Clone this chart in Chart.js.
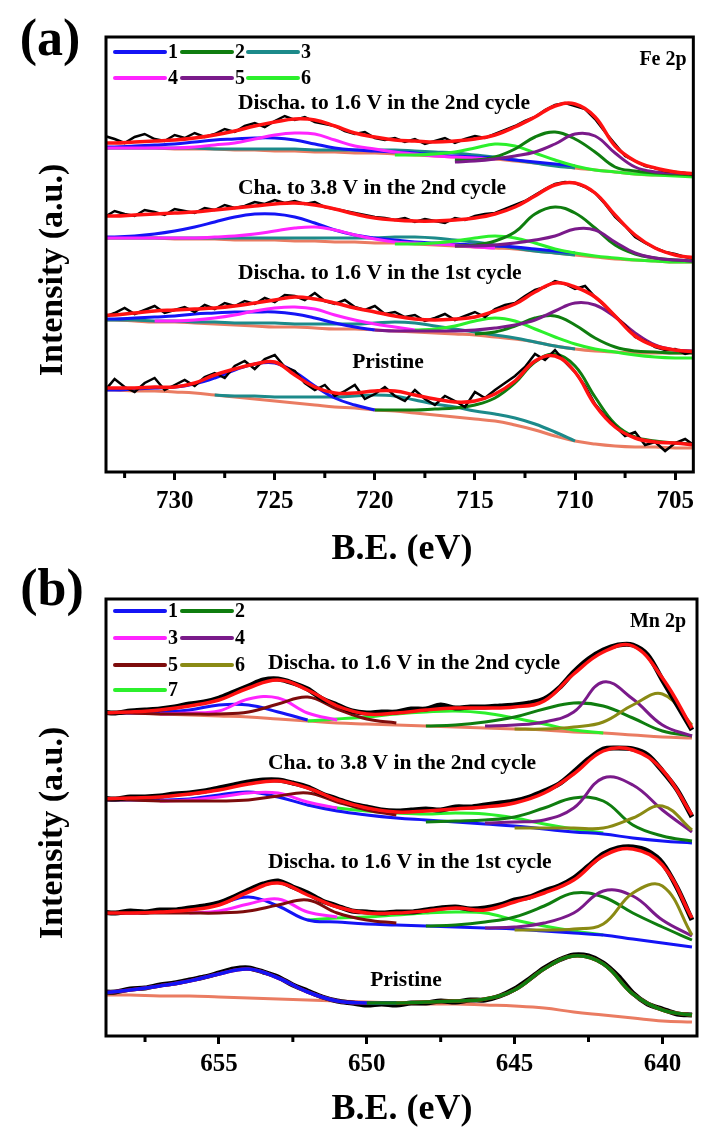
<!DOCTYPE html>
<html>
<head>
<meta charset="utf-8">
<script src="https://cdn.jsdelivr.net/npm/chart.js@4.4.0/dist/chart.umd.min.js"></script>
<style>
  body { margin: 0; background: #fff; width: 701px; height: 1133px; position: relative; overflow: hidden; }
  canvas { position: absolute; left: 0; }
  #ca { top: 0; }
  #cb { top: 540px; }
</style>
</head>
<body>
<canvas id="ca" width="701" height="580"></canvas>
<canvas id="cb" width="701" height="593"></canvas>
<script>
const _ = null;

// ---- panel (a) Fe 2p : binding energies (eV) ----
const eA = [734,733,732,731,730,729,728,727,726,725,724,723,722,721,720,719,718,717,716,715,714,713,712,711,710,709,708,707,706,705,704];
const eAraw = [734,733.5,733,732.5,732,731.5,731,730.5,730,729.5,729,728.5,728,727.5,727,726.5,726,725.5,725,724.5,724,723.5,723,722.5,722,721.5,721,720.5,720,719.5,719,718.5,718,717.5,717,716.5,716,715.5,715,714.5,714,713.5,713,712.5,712,711.5,711,710.5,710,709.5,709,708.5,708,707.5,707,706.5,706,705.5,705,704.5,704];
const ticksA = [730,725,720,715,710,705];
const namesA = ['1','2','3','4','5','6'];
const labelsA = ['Discha. to 1.6 V in the 2nd cycle','Cha. to 3.8 V in the 2nd cycle','Discha. to 1.6 V in the 1st cycle','Pristine'];

// discharged to 1.6 V, 2nd cycle
const a1Raw = [360,364,361,357,363,366,361,359,365,362,367,363,366,371,368,374,377,373,379,384,380,383,378,376,374,369,366,368,362,360,362,358,361,356,359,362,357,361,364,362,366,370,374,379,383,390,395,397,394,391,381,368,356,344,339,334,332,329,328,327,325];
const a1Red = [357,357,358,359,360,362,365,369,374,378,381,380,374,367,363,360,359,358,359,361,365,373,383,394,396,383,354,339,332,328,326];
const a1Base = [352,352,352,352,351,351,351,350,350,349,349,348,348,347,347,346,345,344,343,342,341,339,337,335,332,330,328,326,325,325,324];
const a1C1 = [353,353,354,355,356,358,360,361,362,362,360,356,352,350,349,348,347,345,344,343,342,340,338,336,334,_,_,_,_,_,_];
const a1C2 = [_,_,_,_,_,_,_,_,_,_,_,_,_,_,_,_,_,_,340,340,343,351,363,368,361,348,333,329,327,326,325];
const a1C3 = [352,352,352,352,352,352,351,351,351,351,351,350,350,350,350,350,349,348,347,345,343,340,337,334,332,_,_,_,_,_,_];
const a1C4 = [352,352,352,352,352,353,355,357,361,365,367,366,360,354,351,348,346,344,343,342,341,_,_,_,_,_,_,_,_,_,_];
const a1C5 = [_,_,_,_,_,_,_,_,_,_,_,_,_,_,_,_,_,_,338,339,341,344,348,356,366,364,347,333,328,327,326];
const a1C6 = [_,_,_,_,_,_,_,_,_,_,_,_,_,_,_,345,345,346,348,352,356,354,347,340,334,330,328,326,325,324,323];

// charged to 3.8 V, 2nd cycle
const a2Raw = [286,283,289,286,284,290,288,285,291,289,287,292,290,295,292,294,298,296,300,297,299,296,298,293,291,289,287,285,283,282,280,282,278,281,279,277,282,280,284,286,287,291,295,299,305,311,316,318,317,313,307,296,283,274,263,257,252,248,246,243,241];
const a2Red = [284,284,285,286,287,288,290,292,294,296,297,295,291,286,282,280,279,279,280,282,286,293,304,315,317,307,285,265,252,245,242];
const a2Base = [262,262,262,262,261,261,261,260,260,260,259,259,258,258,257,257,256,255,254,253,252,251,249,247,245,243,241,240,239,238,238];
const a2C1 = [263,263,264,266,269,273,278,283,286,286,283,277,270,265,262,260,258,257,256,255,254,253,251,249,247,_,_,_,_,_,_];
const a2C2 = [_,_,_,_,_,_,_,_,_,_,_,_,_,_,_,_,_,_,254,255,259,268,286,293,287,272,255,246,242,240,239];
const a2C3 = [262,262,262,262,262,262,262,262,262,262,262,262,262,262,262,263,263,262,260,258,255,252,249,247,245,_,_,_,_,_,_];
const a2C4 = [262,262,262,262,262,262,263,264,266,269,272,273,270,265,261,258,257,256,255,253,252,_,_,_,_,_,_,_,_,_,_];
const a2C5 = [_,_,_,_,_,_,_,_,_,_,_,_,_,_,_,_,_,_,254,254,255,257,260,264,271,270,258,247,242,240,239];
const a2C6 = [_,_,_,_,_,_,_,_,_,_,_,_,_,_,_,256,256,257,259,262,264,262,257,251,247,244,242,240,239,238,238];

// discharged to 1.6 V, 1st cycle
const a3Raw = [189,183,187,192,186,190,194,187,190,193,188,195,191,197,194,199,196,202,198,205,204,200,207,199,196,200,193,190,194,186,188,183,185,179,182,186,180,184,188,183,191,195,197,204,210,213,219,216,211,214,203,194,184,175,163,159,153,150,151,146,149];
const a3Red = [185,185,187,189,190,191,192,194,197,200,203,201,197,192,188,184,181,180,181,183,189,196,208,217,213,203,184,164,154,150,148];
const a3Base = [180,180,179,178,178,177,176,175,174,173,173,172,171,171,170,169,168,167,166,165,163,161,158,154,151,149,148,147,147,147,147];
const a3C1 = [181,181,182,183,184,186,187,188,188,188,186,182,177,173,170,_,_,_,_,_,_,_,_,_,_,_,_,_,_,_,_];
const a3C2 = [_,_,_,_,_,_,_,_,_,_,_,_,_,_,_,_,_,_,_,166,168,174,182,184,175,162,153,149,148,147,147];
const a3C3 = [180,180,180,179,179,178,178,177,177,177,176,176,176,176,177,178,177,174,171,168,165,162,158,154,151,_,_,_,_,_,_];
const a3C4 = [_,_,_,179,179,180,182,185,189,192,193,191,185,180,176,173,170,_,_,_,_,_,_,_,_,_,_,_,_,_,_];
const a3C5 = [_,_,_,_,_,_,_,_,_,_,_,_,_,_,170,169,169,169,169,170,172,175,180,189,197,195,183,167,155,150,149];
const a3C6 = [_,_,_,_,_,_,_,_,_,_,_,_,_,_,_,_,170,171,174,179,182,179,171,163,156,151,148,145,143,142,142];

// pristine
const a4Raw = [116,109,121,113,108,117,122,110,115,120,114,123,127,122,134,139,131,141,145,133,129,117,110,115,104,109,115,101,106,113,104,99,110,101,95,104,99,93,108,102,110,117,124,133,146,140,150,138,128,114,96,84,74,64,68,55,58,49,57,61,54];
const a4Red = [112,112,112,113,113,117,125,131,136,138,125,113,107,107,109,109,105,101,98,99,106,119,139,144,128,95,73,62,58,57,55];
const a4Base = [110,110,109,109,108,107,105,103,101,99,97,95,93,92,90,89,87,85,83,81,79,75,70,64,59,56,54,53,53,52,52];
const a4C1 = [110,110,111,112,113,116,122,130,136,137,128,114,102,95,90,_,_,_,_,_,_,_,_,_,_,_,_,_,_,_,_];
const a4C2 = [_,_,_,_,_,_,_,_,_,_,_,_,_,_,90,90,90,91,92,95,102,117,138,146,134,103,76,63,59,57,56];
const a4C3 = [_,_,_,_,_,_,105,104,104,103,103,103,103,104,105,104,100,96,93,89,86,82,76,68,59,_,_,_,_,_,_];

// ---- panel (b) Mn 2p ----
const eB = [659,658,657,656,655,654,653,652,651,650,649,648,647,646,645,644,643,642,641,640,639];
const eBraw = [659,658.5,658,657.5,657,656.5,656,655.5,655,654.5,654,653.5,653,652.5,652,651.5,651,650.5,650,649.5,649,648.5,648,647.5,647,646.5,646,645.5,645,644.5,644,643.5,643,642.5,642,641.5,641,640.5,640,639.5,639];
const ticksB = [655,650,645,640];
const namesB = ['1','2','3','4','5','6','7'];
const labelsB = ['Discha. to 1.6 V in the 2nd cycle','Cha. to 3.8 V in the 2nd cycle','Discha. to 1.6 V in the 1st cycle','Pristine'];

const b1Raw = [388,387,389,390,391,393,396,398,402,408,414,420,421,417,411,401,395,389,387,388,388,391,391,395,392,393,393,394,395,397,401,412,428,441,450,455,455,445,420,395,370];
const b1Red = [387,388,390,394,400,412,420,410,394,386,387,390,392,392,393,399,426,448,454,422,372];
const b1Base = [387,387,386,385,384,383,381,379,377,376,375,374,373,372,371,370,368,367,365,363,362];
const b1C1 = [387,387,388,390,395,395,388,380,_,_,_,_,_,_,_,_,_,_,_,_,_];
const b1C2 = [_,_,_,_,_,_,_,_,_,_,_,374,375,378,383,391,397,394,382,369,364];
const b1C3 = [_,_,386,387,389,401,402,387,380,_,_,_,_,_,_,_,_,_,_,_,_];
const b1C4 = [_,_,_,_,_,_,_,_,_,_,_,_,_,374,375,378,388,418,401,375,364];
const b1C5 = [387,387,386,386,386,388,396,403,391,381,377,_,_,_,_,_,_,_,_,_,_];
const b1C6 = [_,_,_,_,_,_,_,_,_,_,_,_,_,_,371,371,373,378,395,406,375];
const b1C7 = [_,_,_,_,_,_,_,379,381,383,386,388,389,387,382,376,370,367,_,_,_];

const b2Raw = [302,301,303,303,304,306,307,309,312,315,318,320,320,317,313,306,301,296,293,290,289,290,291,290,293,293,295,297,299,303,309,316,328,341,351,352,351,345,329,310,283];
const b2Red = [301,302,303,306,310,316,319,312,300,292,288,289,291,293,297,307,326,349,350,330,285];
const b2C1 = [300,300,300,301,305,308,303,295,289,285,282,280,278,276,274,271,268,266,262,259,257];
const b2C2 = [_,_,_,_,_,_,_,_,_,_,_,278,279,280,283,292,302,299,275,264,259];
const b2C3 = [_,_,299,300,303,307,307,298,292,_,_,_,_,_,_,_,_,_,_,_,_];
const b2C4 = [_,_,_,_,_,_,_,_,_,_,_,_,_,277,278,280,292,322,315,290,268];
const b2C5 = [300,300,299,299,299,300,304,307,298,290,285,_,_,_,_,_,_,_,_,_,_];
const b2C6 = [_,_,_,_,_,_,_,_,_,_,_,_,_,_,272,272,272,272,282,294,270];
const b2C7 = [_,_,_,_,_,_,_,295,292,289,287,286,287,286,282,276,271,267,_,_,_];

const b3Raw = [188,187,189,188,190,190,192,194,197,203,210,216,219,213,207,199,194,189,188,187,188,188,190,192,193,191,192,195,200,203,209,214,222,234,246,252,253,249,237,212,180];
const b3Red = [187,187,188,190,195,208,217,205,193,187,187,189,192,190,198,207,220,244,251,235,182];
const b3C1 = [187,187,188,191,196,203,194,180,178,176,175,174,173,172,171,169,167,165,161,157,153];
const b3C2 = [_,_,_,_,_,_,_,_,_,_,_,174,175,178,183,194,207,203,187,173,160];
const b3C3 = [_,_,_,187,189,196,201,188,183,_,_,_,_,_,_,_,_,_,_,_,_];
const b3C4 = [_,_,_,_,_,_,_,_,_,_,_,_,_,172,173,177,187,209,204,180,164];
const b3C5 = [187,187,187,187,187,189,195,200,187,180,177,_,_,_,_,_,_,_,_,_,_];
const b3C6 = [_,_,_,_,_,_,_,_,_,_,_,_,_,_,170,170,171,176,207,214,165];
const b3C7 = [_,_,_,_,_,_,_,180,182,183,185,187,188,187,180,174,169,165,_,_,_];

const b4Raw = [108,108,111,112,115,117,120,123,127,131,132,128,123,115,109,103,99,97,95,96,95,97,97,99,98,100,100,104,111,121,132,140,145,144,137,124,107,96,91,86,85];
const b4Red = [107,110,114,119,126,131,122,108,99,97,97,98,99,101,110,131,144,136,106,90,85];
const b4Base = [105,105,104,104,103,102,101,100,99,98,97,96,96,95,94,92,88,85,82,79,78];
const b4C1 = [107,110,114,119,126,131,122,108,99,97,97,_,_,_,_,_,_,_,_,_,_];
const b4C2 = [_,_,_,_,_,_,_,_,_,97,97,98,99,101,110,131,144,136,106,90,85];

// ---- colours ----
const C = {
  blue: '#1414f5', green: '#0f7d0f', teal: '#1c8a8a', magenta: '#ff24ff', purple: '#7a1a8a',
  lime: '#2cf02c', maroon: '#7d0c0c', olive: '#8a8a14', red: '#ff1212', base: '#ea7c62', black: '#000000'
};
const colA = [C.blue, C.green, C.teal, C.magenta, C.purple, C.lime];
const colB = [C.blue, C.green, C.magenta, C.purple, C.maroon, C.olive, C.lime];

function ds(xs, ys, color, w, t) {
  return {
    data: xs.map((x, i) => ({x: x, y: ys[i]})).filter(p => p.y !== null),
    borderColor: color, borderWidth: w, tension: t, pointRadius: 0, fill: false
  };
}

function spectrumA(raw, red, base, comps) {
  const out = [ds(eA, base, C.base, 3, 0.4)];
  comps.forEach(c => out.push(ds(eA, c[1], colA[c[0]], 3, 0.4)));
  out.push(ds(eAraw, raw, C.black, 2.5, 0));
  out.push(ds(eA, red, C.red, 3.5, 0.4));
  return out;
}

function spectrumB(raw, red, base, comps, fitOnTop) {
  const out = [];
  if (base) out.push(ds(eB, base, C.base, 3, 0.4));
  if (fitOnTop) {
    out.push(ds(eBraw, raw, C.black, 5, 0.3));
    out.push(ds(eB, red, C.red, 3.5, 0.4));
    comps.forEach(c => out.push(ds(eB, c[1], colB[c[0]], 3.5, 0.4)));
  } else {
    comps.forEach(c => out.push(ds(eB, c[1], colB[c[0]], 3, 0.4)));
    out.push(ds(eBraw, raw, C.black, 5, 0.3));
    out.push(ds(eB, red, C.red, 3.5, 0.4));
  }
  return out;
}

function stack(list) {
  // first item is drawn at the bottom
  list.forEach((d, i) => { d.order = list.length - i; });
  return list;
}

const dsA = stack([
  ...spectrumA(a4Raw, a4Red, a4Base, [[2, a4C3], [0, a4C1], [1, a4C2]]),
  ...spectrumA(a3Raw, a3Red, a3Base, [[2, a3C3], [0, a3C1], [3, a3C4], [5, a3C6], [1, a3C2], [4, a3C5]]),
  ...spectrumA(a2Raw, a2Red, a2Base, [[2, a2C3], [0, a2C1], [3, a2C4], [5, a2C6], [1, a2C2], [4, a2C5]]),
  ...spectrumA(a1Raw, a1Red, a1Base, [[2, a1C3], [0, a1C1], [3, a1C4], [5, a1C6], [1, a1C2], [4, a1C5]])
]);

const dsB = stack([
  ...spectrumB(b4Raw, b4Red, b4Base, [[0, b4C1], [1, b4C2]], true),
  ...spectrumB(b3Raw, b3Red, null, [[6, b3C7], [0, b3C1], [2, b3C3], [4, b3C5], [1, b3C2], [3, b3C4], [5, b3C6]], false),
  ...spectrumB(b2Raw, b2Red, null, [[6, b2C7], [0, b2C1], [2, b2C3], [4, b2C5], [1, b2C2], [3, b2C4], [5, b2C6]], false),
  ...spectrumB(b1Raw, b1Red, b1Base, [[6, b1C7], [0, b1C1], [2, b1C3], [4, b1C5], [1, b1C2], [3, b1C4], [5, b1C6]], false)
]);

// frame, minor ticks, legend and labels
const deco = {
  id: 'deco',
  afterDraw(chart, args, o) {
    const ctx = chart.ctx, a = chart.chartArea, xs = chart.scales.x, off = o.offset;
    ctx.save();
    ctx.strokeStyle = '#000';
    ctx.lineWidth = 3;
    o.minor.forEach(v => {
      const px = xs.getPixelForValue(v);
      ctx.beginPath(); ctx.moveTo(px, a.bottom); ctx.lineTo(px, a.bottom + 6); ctx.stroke();
    });
    ctx.strokeRect(a.left, a.top, a.right - a.left, a.bottom - a.top);

    ctx.fillStyle = '#000';
    ctx.textBaseline = 'middle';
    o.legend.forEach(l => {
      ctx.strokeStyle = l.c; ctx.lineWidth = 4; ctx.lineCap = 'round';
      ctx.beginPath(); ctx.moveTo(l.x, l.y - off); ctx.lineTo(l.x + 50, l.y - off); ctx.stroke();
      ctx.font = 'bold 20px "Liberation Serif"';
      ctx.textAlign = 'left';
      ctx.fillText(l.t, l.x + 53, l.y - off + 1);
    });
    o.texts.forEach(t => {
      ctx.font = 'bold ' + t.size + 'px "Liberation Serif"';
      ctx.textAlign = t.align || 'center';
      if (t.rot) {
        ctx.save(); ctx.translate(t.x, t.y - off); ctx.rotate(-Math.PI / 2);
        ctx.fillText(t.s, 0, 0); ctx.restore();
      } else {
        ctx.fillText(t.s, t.x, t.y - off);
      }
    });
    ctx.restore();
  }
};

function makeChart(id, datasets, xmin, xmax, ymin, ymax, tickVals, padTop, axisH, tickPad, decoOpts) {
  return new Chart(document.getElementById(id), {
    type: 'line',
    data: {datasets: datasets},
    options: {
      responsive: false,
      animation: false,
      devicePixelRatio: 1,
      layout: {padding: {left: 106, right: 4, top: padTop, bottom: 0}},
      plugins: {legend: {display: false}, tooltip: {enabled: false}, deco: decoOpts},
      scales: {
        x: {
          type: 'linear', reverse: true, min: xmin, max: xmax,
          afterBuildTicks: s => { s.ticks = tickVals.map(v => ({value: v})); },
          afterFit: s => { s.height = axisH; },
          border: {display: false},
          grid: {drawOnChartArea: false, drawTicks: true, tickLength: 8, tickWidth: 3, tickColor: '#000'},
          ticks: {
            autoSkip: false, maxRotation: 0, padding: tickPad, color: '#000',
            font: {family: 'Liberation Serif', size: 25, weight: 'bold'},
            callback: v => String(v)
          }
        },
        y: {display: false, min: ymin, max: ymax}
      }
    },
    plugins: [deco]
  });
}

const legA = [
  {c: colA[0], x: 115, y: 52, t: namesA[0]}, {c: colA[1], x: 182, y: 52, t: namesA[1]}, {c: colA[2], x: 248, y: 52, t: namesA[2]},
  {c: colA[3], x: 115, y: 78, t: namesA[3]}, {c: colA[4], x: 182, y: 78, t: namesA[4]}, {c: colA[5], x: 248, y: 78, t: namesA[5]}
];
const legB = [
  {c: colB[0], x: 115, y: 611, t: namesB[0]}, {c: colB[1], x: 182, y: 611, t: namesB[1]},
  {c: colB[2], x: 115, y: 638, t: namesB[2]}, {c: colB[3], x: 182, y: 638, t: namesB[3]},
  {c: colB[4], x: 115, y: 665, t: namesB[4]}, {c: colB[5], x: 182, y: 665, t: namesB[5]},
  {c: colB[6], x: 115, y: 690, t: namesB[6]}
];

makeChart('ca', dsA, 704.09, 733.43, 28, 463, ticksA, 37, 108, 7, {
  offset: 0,
  minor: [732.5, 727.5, 722.5, 717.5, 712.5, 707.5],
  legend: legA,
  texts: [
    {s: '(a)', x: 50, y: 42, size: 52},
    {s: 'Intensity (a.u.)', x: 53, y: 270, size: 34, rot: true},
    {s: 'B.E. (eV)', x: 402, y: 550, size: 36},
    {s: 'Fe 2p', x: 663, y: 60, size: 20},
    {s: labelsA[0], x: 238, y: 103, size: 21.5, align: 'left'},
    {s: labelsA[1], x: 238, y: 188, size: 21.5, align: 'left'},
    {s: labelsA[2], x: 238, y: 273, size: 21.5, align: 'left'},
    {s: labelsA[3], x: 388, y: 362, size: 21.5}
  ]
});

makeChart('cb', dsB, 638.83, 658.82, 64, 501, ticksB, 59, 97, 6, {
  offset: 540,
  minor: [657.5, 652.5, 647.5, 642.5],
  legend: legB,
  texts: [
    {s: '(b)', x: 52, y: 592, size: 52},
    {s: 'Intensity (a.u.)', x: 53, y: 833, size: 34, rot: true},
    {s: 'B.E. (eV)', x: 402, y: 1110, size: 36},
    {s: 'Mn 2p', x: 658, y: 622, size: 20},
    {s: labelsB[0], x: 268, y: 663, size: 21.5, align: 'left'},
    {s: labelsB[1], x: 268, y: 763, size: 21.5, align: 'left'},
    {s: labelsB[2], x: 268, y: 862, size: 21.5, align: 'left'},
    {s: labelsB[3], x: 406, y: 980, size: 21.5}
  ]
});
</script>
</body>
</html>
